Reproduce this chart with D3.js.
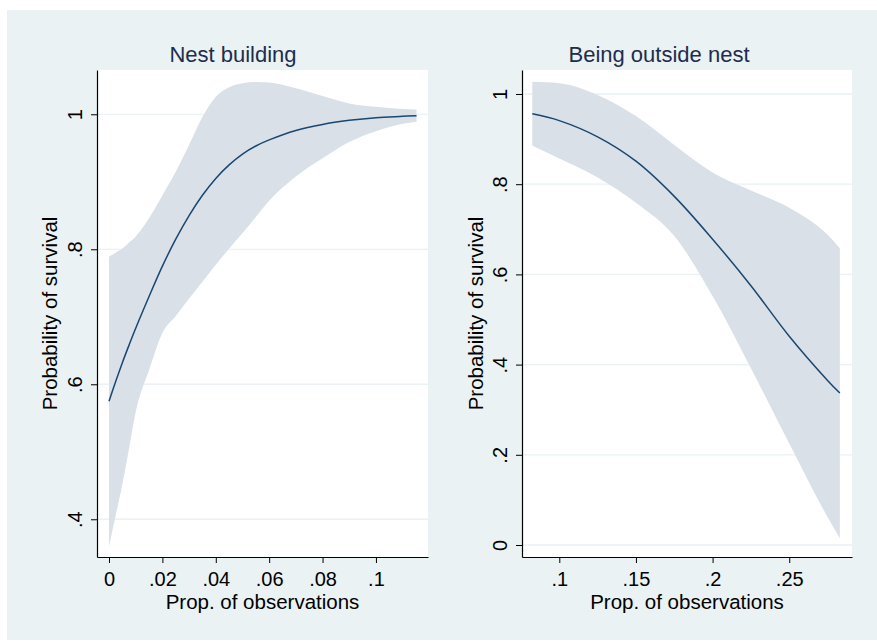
<!DOCTYPE html>
<html>
<head>
<meta charset="utf-8">
<script src="https://cdn.jsdelivr.net/npm/d3@7/dist/d3.min.js"></script>
<style>
  html, body { margin: 0; padding: 0; background: #ffffff; }
  svg { display: block; font-family: "Liberation Sans", Arial, Helvetica, sans-serif; }
</style>
</head>
<body>
<svg id="chart" width="877" height="644"></svg>
<script>
// ---------- Data ----------
const panelTitles = ["Nest building", "Being outside nest"];
const xAxisTitle = "Prop. of observations";
const yAxisTitle = "Probability of survival";

// Panel 1: Nest building
const nestX     = [0, 0.0025, 0.005, 0.0075, 0.01, 0.015, 0.02, 0.025, 0.03, 0.035, 0.04, 0.045, 0.05, 0.055, 0.06, 0.07, 0.08, 0.09, 0.1, 0.11, 0.1152];
const nestFit   = [0.575, 0.604, 0.632, 0.658, 0.683, 0.730, 0.775, 0.815, 0.850, 0.880, 0.905, 0.925, 0.941, 0.953, 0.962, 0.976, 0.985, 0.991, 0.995, 0.997, 0.998];
const nestUpper = [0.789, 0.795, 0.801, 0.810, 0.819, 0.846, 0.880, 0.915, 0.955, 0.996, 1.026, 1.040, 1.046, 1.048, 1.047, 1.0385, 1.027, 1.016, 1.011, 1.008, 1.007];
const nestLower = [0.360, 0.406, 0.452, 0.505, 0.559, 0.621, 0.676, 0.701, 0.727, 0.752, 0.777, 0.801, 0.824, 0.848, 0.872, 0.908, 0.935, 0.959, 0.975, 0.986, 0.989];
const nestXTicks = [0, 0.02, 0.04, 0.06, 0.08, 0.1];
const nestXTickLabels = ["0", ".02", ".04", ".06", ".08", ".1"];
const nestYTicks = [0.4, 0.6, 0.8, 1];
const nestYTickLabels = [".4", ".6", ".8", "1"];

// Panel 2: Being outside nest
const outX     = [0.0824, 0.1, 0.125, 0.15, 0.175, 0.2, 0.225, 0.25, 0.275, 0.283];
const outFit   = [0.956, 0.941, 0.905, 0.851, 0.773, 0.678, 0.575, 0.463, 0.365, 0.337];
const outUpper = [1.027, 1.024, 0.998, 0.951, 0.887, 0.826, 0.786, 0.748, 0.688, 0.658];
const outLower = [0.885, 0.857, 0.815, 0.759, 0.685, 0.552, 0.392, 0.225, 0.062, 0.015];
const outXTicks = [0.1, 0.15, 0.2, 0.25];
const outXTickLabels = [".1", ".15", ".2", ".25"];
const outYTicks = [0, 0.2, 0.4, 0.6, 0.8, 1];
const outYTickLabels = ["0", ".2", ".4", ".6", ".8", "1"];

// ---------- Style ----------
const BG = "#eaf2f3";
const GRID = "#eaf2f3";
const BAND = "#d9e0e8";
const LINE = "#1a476f";
const TITLE = "#1e2d4d";

const svg = d3.select("#chart");
svg.append("rect").attr("x", 7).attr("y", 10).attr("width", 870).attr("height", 630).attr("fill", BG);

const panels = [
  { title: panelTitles[0], titleX: 233, x: nestX, fit: nestFit, up: nestUpper, lo: nestLower,
    left: 97, right: 428, xDom: [-0.0045, 0.1195], yDom: [0.3441, 1.0656],
    xt: nestXTicks, xtl: nestXTickLabels, yt: nestYTicks, ytl: nestYTickLabels, yTitleX: 57 },
  { title: panelTitles[1], titleX: 659, x: outX, fit: outFit, up: outUpper, lo: outLower,
    left: 522, right: 852, xDom: [0.07567, 0.29094], yDom: [-0.0266, 1.0532],
    xt: outXTicks, xtl: outXTickLabels, yt: outYTicks, ytl: outYTickLabels, yTitleX: 483 }
];
const plotTop = 70, plotBottom = 557;

panels.forEach(p => {
  const x = d3.scaleLinear().domain(p.xDom).range([p.left, p.right]);
  const y = d3.scaleLinear().domain(p.yDom).range([plotBottom, plotTop]);
  const g = svg.append("g");

  // plot region
  g.append("rect").attr("x", p.left).attr("y", plotTop)
    .attr("width", p.right - p.left).attr("height", plotBottom - plotTop).attr("fill", "#ffffff");

  // grid
  g.selectAll(".grid").data(p.yt).enter().append("line")
    .attr("x1", p.left).attr("x2", p.right)
    .attr("y1", d => y(d)).attr("y2", d => y(d))
    .attr("stroke", GRID).attr("stroke-width", 1.3);

  const pts = p.x.map((v, i) => ({ x: v, fit: p.fit[i], up: p.up[i], lo: p.lo[i] }));

  // CI band
  const area = d3.area().x(d => x(d.x)).y0(d => y(d.lo)).y1(d => y(d.up)).curve(d3.curveMonotoneX);
  g.append("path").datum(pts).attr("d", area).attr("fill", BAND);

  // fitted line
  const line = d3.line().x(d => x(d.x)).y(d => y(d.fit)).curve(d3.curveCatmullRom.alpha(0.5));
  g.append("path").datum(pts).attr("d", line).attr("fill", "none")
    .attr("stroke", LINE).attr("stroke-width", 1.5);

  // x axis
  const xAxis = d3.axisBottom(x).tickValues(p.xt)
    .tickFormat((d, i) => p.xtl[i]).tickSize(6).tickSizeOuter(0);
  const gx = g.append("g").attr("transform", `translate(0,${plotBottom})`).call(xAxis);
  gx.select(".domain").attr("stroke", "#000").attr("stroke-width", 1.2);
  gx.selectAll(".tick line").attr("stroke", "#000").attr("stroke-width", 1);
  gx.selectAll(".tick text").attr("font-size", 20).attr("fill", "#000")
    .attr("font-family", "Liberation Sans, Arial, sans-serif").attr("y", 29).attr("dy", null);

  // y axis
  const yAxis = d3.axisLeft(y).tickValues(p.yt)
    .tickFormat((d, i) => p.ytl[i]).tickSize(6).tickSizeOuter(0);
  const gy = g.append("g").attr("transform", `translate(${p.left},0)`).call(yAxis);
  gy.select(".domain").attr("stroke", "#000").attr("stroke-width", 1.2);
  gy.selectAll(".tick line").attr("stroke", "#000").attr("stroke-width", 1);
  gy.selectAll(".tick text").attr("font-size", 20).attr("fill", "#000")
    .attr("font-family", "Liberation Sans, Arial, sans-serif")
    .attr("x", 0).attr("y", -15).attr("dy", null)
    .attr("text-anchor", "middle").attr("transform", "rotate(-90)");

  // titles
  svg.append("text").attr("x", p.titleX).attr("y", 62).attr("text-anchor", "middle")
    .attr("font-size", 22).attr("fill", TITLE).text(p.title);
  svg.append("text").attr("x", (p.left + p.right) / 2).attr("y", 609).attr("text-anchor", "middle")
    .attr("font-size", 20.5).attr("fill", "#000").text(xAxisTitle);
  svg.append("text").attr("transform", `translate(${p.yTitleX},${(plotTop + plotBottom) / 2}) rotate(-90)`)
    .attr("text-anchor", "middle").attr("font-size", 20.5).attr("fill", "#000").text(yAxisTitle);
});
</script>
</body>
</html>
